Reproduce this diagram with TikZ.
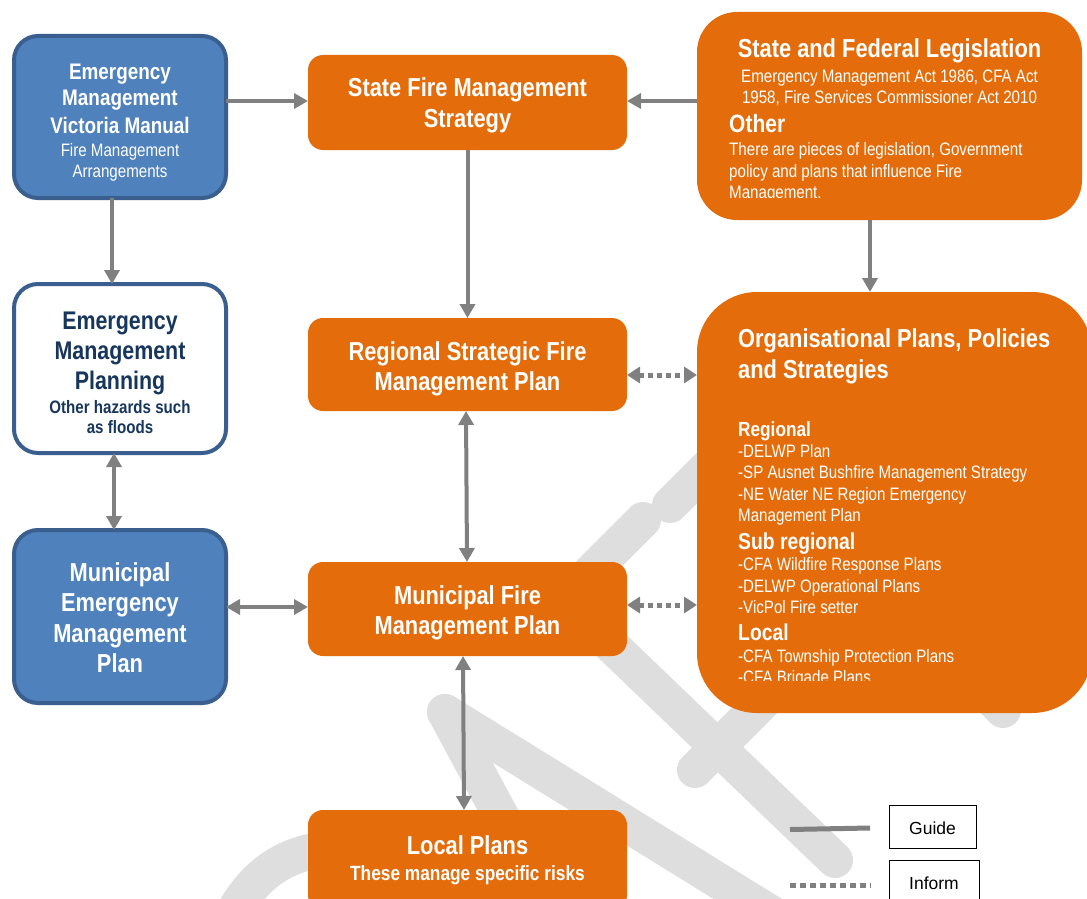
\documentclass[tikz,border=0pt]{standalone}
\usepackage{fontspec}
\setmainfont[FakeStretch=0.84]{Liberation Sans}
\newfontfamily\legendfont{Liberation Sans}
\usetikzlibrary{arrows.meta}
\definecolor{bfill}{HTML}{4F81BD}
\definecolor{bborder}{HTML}{3A5F8F}
\definecolor{navy}{HTML}{17365D}
\definecolor{orng}{HTML}{E46C0A}
\definecolor{agray}{HTML}{808080}
\definecolor{wm}{HTML}{DEDEDE}
\newcommand\fsz[1]{\fontsize{#1}{#1}\selectfont}
\begin{document}
\begin{tikzpicture}[x=1pt,y=-1pt,
  bluebox/.style={draw=bborder, fill=bfill, line width=4pt, rounded corners=24pt, inner sep=0pt, outer sep=0pt},
  whitebox/.style={draw=bborder, fill=white, line width=4pt, rounded corners=24pt, inner sep=0pt, outer sep=0pt},
  orbox/.style={fill=orng, rounded corners=15pt, inner sep=0pt, outer sep=0pt},
  wt/.style={inner sep=0pt, text=white},
  nt/.style={inner sep=0pt, text=navy},
  wmband/.style={draw=wm, line width=36pt, line cap=round},
  arr/.style={draw=agray, line width=4pt, -{Triangle[length=14pt,width=15pt]}},
  darr/.style={draw=agray, line width=4pt, {Triangle[length=14pt,width=15pt]}-{Triangle[length=14pt,width=15pt]}},
  dotarr/.style={draw=agray, line width=5pt, dash pattern=on 5pt off 4pt, {Triangle[length=13pt,width=16pt]}-{Triangle[length=13pt,width=16pt]}},
  legbox/.style={draw=black, line width=1pt, fill=white, inner sep=0pt, outer sep=0pt}
]
\useasboundingbox (0,0) rectangle (1087,899);
\fill[white] (0,0) rectangle (1087,899);

% watermark
\draw[wmband] (643,520) -- (570,593);
\draw[wmband] (585,620) -- (835,860);
\draw[wmband] (670,505) -- (760,415);
\draw[wmband] (1003,710) -- (930,637);
\draw[wmband] (445,712) -- (790,925);
\draw[wmband] (445,712) -- (530,870);
\draw[wmband] (695,770) -- (780,685);
\draw[wmband] (232,915) .. controls (258,868) and (292,850) .. (340,848);

% boxes
\node[bluebox, minimum width=212pt, minimum height=162pt] (emv) at (120,117) {};
\node[whitebox, minimum width=212pt, minimum height=169pt] (emp) at (120,368.5) {};
\node[bluebox, minimum width=212pt, minimum height=173pt] (memp) at (120,616.5) {};
\node[orbox, minimum width=319pt, minimum height=95pt] (sfms) at (467.5,102.5) {};
\node[orbox, minimum width=319pt, minimum height=93pt] (rsfmp) at (467.5,364.5) {};
\node[orbox, minimum width=319pt, minimum height=94pt] (mfmp) at (467.5,609) {};
\node[orbox, minimum width=319pt, minimum height=100pt] (local) at (467.5,860) {};
\node[orbox, rounded corners=40pt, minimum width=385pt, minimum height=208pt] (sfl) at (889.5,116) {};
\node[orbox, rounded corners=60pt, minimum width=395pt, minimum height=421pt] (opps) at (894.5,502.5) {};

% EMV text
\node[wt, anchor=base] (emv1) at (120,79) {\fsz{22.5}\bfseries Emergency};
\node[wt, anchor=base] (emv2) at (120,106) {\fsz{22.5}\bfseries Management};
\node[wt, anchor=base] (emv3) at (120,133) {\fsz{22.5}\bfseries Victoria Manual};
\node[wt, anchor=base] (emv4) at (120,156.5) {\fsz{18}Fire Management};
\node[wt, anchor=base] (emv5) at (120,177.5) {\fsz{18}Arrangements};

% EMP text
\node[nt, anchor=base] (emp1) at (120,329) {\fsz{25.5}\bfseries Emergency};
\node[nt, anchor=base] (emp2) at (120,359) {\fsz{25.5}\bfseries Management};
\node[nt, anchor=base] (emp3) at (120,389) {\fsz{25.5}\bfseries Planning};
\node[nt, anchor=base] (emp4) at (120,413.5) {\fsz{18}\bfseries Other hazards such};
\node[nt, anchor=base] (emp5) at (120,433.5) {\fsz{18}\bfseries as floods};

% MEMP text
\node[wt, anchor=base] (memp1) at (120,581) {\fsz{26}\bfseries Municipal};
\node[wt, anchor=base] (memp2) at (120,611) {\fsz{26}\bfseries Emergency};
\node[wt, anchor=base] (memp3) at (120,642) {\fsz{26}\bfseries Management};
\node[wt, anchor=base] (memp4) at (120,672) {\fsz{26}\bfseries Plan};

% middle column text
\node[wt, anchor=base] (sfms1) at (467.5,96) {\fsz{26}\bfseries State Fire Management};
\node[wt, anchor=base] (sfms2) at (467.5,127) {\fsz{26}\bfseries Strategy};
\node[wt, anchor=base] (rs1) at (467.5,360) {\fsz{26}\bfseries Regional Strategic Fire};
\node[wt, anchor=base] (rs2) at (467.5,390) {\fsz{26}\bfseries Management Plan};
\node[wt, anchor=base] (mf1) at (467.5,604) {\fsz{26}\bfseries Municipal Fire};
\node[wt, anchor=base] (mf2) at (467.5,634) {\fsz{26}\bfseries Management Plan};
\node[wt, anchor=base] (lp1) at (467.5,854) {\fsz{26}\bfseries Local Plans};
\node[wt, anchor=base] (lp2) at (467.5,880) {\fsz{20.6}\bfseries These manage specific risks};

% SFL text
\node[wt, anchor=base] (sfl1) at (889.5,58) {\fsz{26}\bfseries State and Federal Legislation};
\node[wt, anchor=base] (sfl2) at (889.5,82.5) {\fsz{18}Emergency Management Act 1986, CFA Act};
\node[wt, anchor=base] (sfl3) at (889.5,103.5) {\fsz{18}1958, Fire Services Commissioner Act 2010};
\node[wt, anchor=base west] (sfl4) at (729,132) {\fsz{25}\bfseries Other};
\node[wt, anchor=base west] (sfl5) at (729,155.5) {\fsz{18}There are pieces of legislation, Government};
\node[wt, anchor=base west] (sfl6) at (729,177.5) {\fsz{18}policy and plans that influence Fire};
\begin{scope}
\clip (700,180) rectangle (1080,197.5);
\node[wt, anchor=base west] (sfl7) at (729,198.5) {\fsz{18}Management.};
\end{scope}

% OPPS text
\node[wt, anchor=base west] (op1) at (738,347.4) {\fsz{26}\bfseries Organisational Plans, Policies};
\node[wt, anchor=base west] (op2) at (738,378.4) {\fsz{26}\bfseries and Strategies};
\node[wt, anchor=base west] (op3) at (738,436.4) {\fsz{20.5}\bfseries Regional};
\node[wt, anchor=base west] (op4) at (738,457.5) {\fsz{18}-DELWP Plan};
\node[wt, anchor=base west] (op5) at (738,478.5) {\fsz{18}-SP Ausnet Bushfire Management Strategy};
\node[wt, anchor=base west] (op6) at (738,500.5) {\fsz{18}-NE Water NE Region Emergency};
\node[wt, anchor=base west] (op7) at (738,521.5) {\fsz{18}Management Plan};
\node[wt, anchor=base west] (op8) at (738,549.3) {\fsz{23}\bfseries Sub regional};
\node[wt, anchor=base west] (op9) at (738,570.5) {\fsz{18}-CFA Wildfire Response Plans};
\node[wt, anchor=base west] (op10) at (738,592.5) {\fsz{18}-DELWP Operational Plans};
\node[wt, anchor=base west] (op11) at (738,613.5) {\fsz{18}-VicPol Fire setter};
\node[wt, anchor=base west] (op12) at (738,640.3) {\fsz{23}\bfseries Local};
\node[wt, anchor=base west] (op13) at (738,662.5) {\fsz{18}-CFA Township Protection Plans};
\begin{scope}
\clip (700,666) rectangle (1080,680.5);
\node[wt, anchor=base west] (op14) at (738,683.5) {\fsz{18}-CFA Brigade Plans};
\end{scope}

% connectors
\draw[arr] (emv.east |- 0,101) -- (sfms.west |- 0,101);
\draw[arr] (sfl.west |- 0,101) -- (sfms.east |- 0,101);
\draw[arr] (sfms.south) -- (rsfmp.north);
\draw[arr] (sfl.south -| 870,0) -- (opps.north -| 870,0);
\draw[arr] (emv.south -| 112,0) -- (emp.north -| 112,0);
\draw[darr] (emp.south -| 114,0) -- (memp.north -| 114,0);
\draw[darr] (rsfmp.south -| 466,0) -- (mfmp.north -| 467,0);
\draw[dotarr] (rsfmp.east |- 0,375) -- (opps.west |- 0,375);
\draw[darr] (memp.east |- 0,607) -- (mfmp.west |- 0,607);
\draw[dotarr] (mfmp.east |- 0,605) -- (opps.west |- 0,605);
\draw[darr] (mfmp.south -| 463,0) -- (local.north -| 464,0);

% legend
\node[legbox, minimum width=87pt, minimum height=43pt] (guide) at (932.5,826.5) {};
\node[inner sep=0pt, anchor=base] (guidet) at (932.5,834) {\legendfont\fsz{17.5}Guide};
\node[legbox, minimum width=90pt, minimum height=50pt] (inform) at (934,885) {};
\node[inner sep=0pt, anchor=base] (informt) at (934,889) {\legendfont\fsz{17.5}Inform};
\coordinate (g1) at (790,829.5);
\coordinate (g2) at (870,828);
\coordinate (i1) at (790,885);
\coordinate (i2) at (871,885);
\draw[draw=agray, line width=5pt] (g1) -- (g2);
\draw[draw=agray, line width=5pt, dash pattern=on 6pt off 4pt] (i1) -- (i2);
\end{tikzpicture}
\end{document}
